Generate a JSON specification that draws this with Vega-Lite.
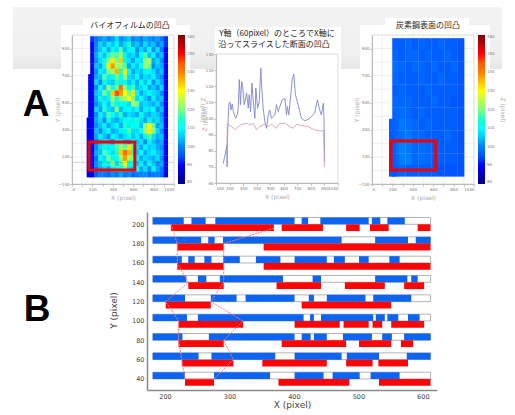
{"$schema":"https://vega.github.io/schema/vega-lite/v6.json","autosize":"none","padding":0,"width":515,"height":415,"background":"white","config":{"view":{"stroke":null},"axis":{"labelFont":"DejaVu Sans","titleFont":"DejaVu Sans","titleFontWeight":"normal"},"legend":{"labelFont":"DejaVu Sans","titleFont":"DejaVu Sans"}},"resolve":{"scale":{"x":"independent","y":"independent","color":"independent"},"axis":{"x":"independent","y":"independent"},"legend":{"color":"independent"}},"datasets":{"boxes":[{"x0":61,"x1":190,"y0":25,"y1":70},{"x0":83,"x1":176,"y0":18,"y1":26},{"x0":215,"x1":341,"y0":27,"y1":70},{"x0":360,"x1":490,"y0":25,"y1":70},{"x0":385,"x1":469,"y0":18,"y1":26}],"band":[{"x0":13,"x1":502,"y0":7,"y1":69}],"letters":[{"x":36,"y":116,"t":"A"},{"x":37,"y":321,"t":"B"}],"titles":[{"x":130,"y":26,"t":"バイオフィルムの凹凸"},{"x":277,"y":34,"t":"Y軸（60pixel）のところでX軸に"},{"x":274,"y":45,"t":"沿ってスライスした断面の凹凸"},{"x":428,"y":26,"t":"炭素鋼表面の凹凸"}],"gridV":[{"x":100,"y0":-100,"y1":1000},{"x":200,"y0":-100,"y1":1000},{"x":300,"y0":-100,"y1":1000},{"x":400,"y0":-100,"y1":1000},{"x":500,"y0":-100,"y1":1000},{"x":600,"y0":-100,"y1":1000},{"x":700,"y0":-100,"y1":1000},{"x":800,"y0":-100,"y1":1000},{"x":900,"y0":-100,"y1":1000}],"gridH":[{"y":0,"x0":0,"x1":1000},{"y":100,"x0":0,"x1":1000},{"y":200,"x0":0,"x1":1000},{"y":300,"x0":0,"x1":1000},{"y":400,"x0":0,"x1":1000},{"y":500,"x0":0,"x1":1000},{"y":600,"x0":0,"x1":1000},{"y":700,"x0":0,"x1":1000},{"y":800,"x0":0,"x1":1000},{"y":900,"x0":0,"x1":1000}],"frame1":[{"x0":0,"x1":1000,"y0":-100,"y1":1000}],"frame2":[{"x0":100,"x1":1000,"y0":60,"y1":140}],"outline1":[{"x0":167,"x1":616,"y0":3,"y1":210}],"outline3":[{"x0":186,"x1":625,"y0":3,"y1":218}],"slice":[{"x0":0,"x1":1000,"y":60}],"blueProfile":[{"x":154,"z":72.1},{"x":161,"z":75.2},{"x":174,"z":80.4},{"x":181,"z":83.5},{"x":182,"z":70},{"x":183,"z":83.5},{"x":191,"z":102.2},{"x":196,"z":109.5},{"x":205,"z":110.1},{"x":210,"z":105.3},{"x":220,"z":108.9},{"x":228,"z":104.3},{"x":245,"z":100.1},{"x":257,"z":102.2},{"x":264,"z":106.4},{"x":272,"z":124.1},{"x":281,"z":108.5},{"x":289,"z":123},{"x":296,"z":120.9},{"x":308,"z":108.5},{"x":326,"z":115.7},{"x":338,"z":106.4},{"x":345,"z":114.7},{"x":355,"z":104.3},{"x":365,"z":122},{"x":377,"z":108.5},{"x":387,"z":100.1},{"x":394,"z":118.9},{"x":407,"z":106.4},{"x":419,"z":110.5},{"x":431,"z":131.3},{"x":436,"z":120.9},{"x":448,"z":106.4},{"x":460,"z":98.1},{"x":473,"z":93.9},{"x":485,"z":102.2},{"x":497,"z":105.3},{"x":509,"z":100.1},{"x":534,"z":102.2},{"x":546,"z":108.5},{"x":559,"z":104.3},{"x":571,"z":107.4},{"x":588,"z":111.6},{"x":608,"z":112.6},{"x":620,"z":102.2},{"x":627,"z":107.4},{"x":637,"z":102.2},{"x":652,"z":114.7},{"x":662,"z":124.1},{"x":674,"z":127.6},{"x":686,"z":114.7},{"x":706,"z":108.5},{"x":730,"z":100.1},{"x":755,"z":98.5},{"x":791,"z":100.1},{"x":828,"z":103.3},{"x":848,"z":111.6},{"x":865,"z":105.3},{"x":877,"z":102.2},{"x":892,"z":109.5},{"x":897,"z":98.1},{"x":902,"z":73.1}],"redProfile":[{"x":181,"z":81.4},{"x":183,"z":97},{"x":196,"z":96},{"x":215,"z":95},{"x":240,"z":92.9},{"x":264,"z":95},{"x":289,"z":96.4},{"x":326,"z":97},{"x":350,"z":96},{"x":375,"z":97},{"x":399,"z":92.9},{"x":424,"z":95},{"x":460,"z":96.4},{"x":485,"z":95},{"x":509,"z":96.4},{"x":546,"z":93.9},{"x":571,"z":97},{"x":608,"z":97},{"x":644,"z":95},{"x":669,"z":93.9},{"x":693,"z":96.4},{"x":730,"z":95.6},{"x":779,"z":95},{"x":828,"z":92.9},{"x":877,"z":92.2},{"x":892,"z":92.9},{"x":897,"z":81.4},{"x":899,"z":70}],"track":[{"row":200,"top":207,"start":181,"end":612},{"row":180,"top":187,"start":181,"end":612},{"row":160,"top":167,"start":181,"end":612},{"row":140,"top":147,"start":181,"end":612},{"row":120,"top":127,"start":181,"end":612},{"row":100,"top":107,"start":181,"end":612},{"row":80,"top":87,"start":181,"end":612},{"row":60,"top":67,"start":181,"end":612},{"row":40,"top":47,"start":181,"end":612}],"blue":[{"row":200,"top":207,"start":181,"end":229},{"row":200,"top":207,"start":241,"end":263},{"row":200,"top":207,"start":278,"end":401},{"row":200,"top":207,"start":412,"end":422},{"row":200,"top":207,"start":441,"end":516},{"row":200,"top":207,"start":521,"end":534},{"row":200,"top":207,"start":545,"end":572},{"row":180,"top":187,"start":181,"end":256},{"row":180,"top":187,"start":267,"end":277},{"row":180,"top":187,"start":290,"end":474},{"row":180,"top":187,"start":526,"end":577},{"row":180,"top":187,"start":589,"end":612},{"row":160,"top":167,"start":181,"end":226},{"row":160,"top":167,"start":236,"end":246},{"row":160,"top":167,"start":261,"end":272},{"row":160,"top":167,"start":290,"end":316},{"row":160,"top":167,"start":341,"end":379},{"row":160,"top":167,"start":401,"end":451},{"row":160,"top":167,"start":462,"end":479},{"row":160,"top":167,"start":501,"end":516},{"row":160,"top":167,"start":548,"end":564},{"row":140,"top":147,"start":181,"end":233},{"row":140,"top":147,"start":251,"end":264},{"row":140,"top":147,"start":285,"end":383},{"row":140,"top":147,"start":429,"end":442},{"row":140,"top":147,"start":526,"end":576},{"row":140,"top":147,"start":582,"end":592},{"row":120,"top":127,"start":181,"end":231},{"row":120,"top":127,"start":271,"end":311},{"row":120,"top":127,"start":325,"end":401},{"row":120,"top":127,"start":423,"end":431},{"row":120,"top":127,"start":451,"end":511},{"row":120,"top":127,"start":523,"end":582},{"row":100,"top":107,"start":181,"end":234},{"row":100,"top":107,"start":251,"end":415},{"row":100,"top":107,"start":425,"end":431},{"row":100,"top":107,"start":442,"end":523},{"row":100,"top":107,"start":527,"end":541},{"row":100,"top":107,"start":545,"end":562},{"row":100,"top":107,"start":577,"end":595},{"row":80,"top":87,"start":181,"end":227},{"row":80,"top":87,"start":268,"end":401},{"row":80,"top":87,"start":412,"end":426},{"row":80,"top":87,"start":431,"end":451},{"row":80,"top":87,"start":476,"end":521},{"row":80,"top":87,"start":537,"end":552},{"row":80,"top":87,"start":571,"end":612},{"row":60,"top":67,"start":181,"end":252},{"row":60,"top":67,"start":272,"end":371},{"row":60,"top":67,"start":401,"end":474},{"row":60,"top":67,"start":482,"end":532},{"row":60,"top":67,"start":575,"end":612},{"row":40,"top":47,"start":181,"end":231},{"row":40,"top":47,"start":276,"end":363},{"row":40,"top":47,"start":401,"end":446},{"row":40,"top":47,"start":460,"end":502},{"row":40,"top":47,"start":519,"end":564}],"red":[{"row":193,"top":200,"start":209,"end":369},{"row":193,"top":200,"start":381,"end":445},{"row":193,"top":200,"start":481,"end":502},{"row":193,"top":200,"start":518,"end":547},{"row":193,"top":200,"start":592,"end":612},{"row":173,"top":180,"start":219,"end":291},{"row":173,"top":180,"start":353,"end":612},{"row":153,"top":160,"start":219,"end":291},{"row":153,"top":160,"start":353,"end":612},{"row":133,"top":140,"start":236,"end":291},{"row":133,"top":140,"start":373,"end":442},{"row":133,"top":140,"start":479,"end":541},{"row":133,"top":140,"start":571,"end":602},{"row":113,"top":120,"start":201,"end":271},{"row":113,"top":120,"start":412,"end":551},{"row":93,"top":100,"start":221,"end":321},{"row":93,"top":100,"start":401,"end":471},{"row":93,"top":100,"start":477,"end":516},{"row":93,"top":100,"start":522,"end":537},{"row":93,"top":100,"start":551,"end":602},{"row":73,"top":80,"start":221,"end":291},{"row":73,"top":80,"start":381,"end":481},{"row":73,"top":80,"start":501,"end":551},{"row":73,"top":80,"start":566,"end":585},{"row":53,"top":60,"start":226,"end":306},{"row":53,"top":60,"start":351,"end":451},{"row":53,"top":60,"start":481,"end":522},{"row":53,"top":60,"start":531,"end":577},{"row":33,"top":40,"start":231,"end":276},{"row":33,"top":40,"start":376,"end":486},{"row":33,"top":40,"start":532,"end":612}],"contour":[{"o":1,"x":209,"y":200},{"o":2,"x":219,"y":180},{"o":3,"x":219,"y":160},{"o":4,"x":236,"y":140},{"o":5,"x":201,"y":120},{"o":6,"x":221,"y":100},{"o":7,"x":221,"y":80},{"o":8,"x":226,"y":60},{"o":9,"x":231,"y":40},{"o":10,"x":276,"y":40},{"o":11,"x":306,"y":60},{"o":12,"x":291,"y":80},{"o":13,"x":321,"y":100},{"o":14,"x":271,"y":120},{"o":15,"x":291,"y":140},{"o":16,"x":291,"y":160},{"o":17,"x":291,"y":180},{"o":18,"x":369,"y":196}],"copper":[{"x":232,"y":933,"z":96},{"x":296,"y":933,"z":96},{"x":360,"y":933,"z":97},{"x":424,"y":933,"z":96},{"x":488,"y":933,"z":97},{"x":552,"y":933,"z":96},{"x":616,"y":933,"z":96},{"x":680,"y":933,"z":97},{"x":744,"y":933,"z":96},{"x":808,"y":933,"z":96},{"x":872,"y":933,"z":95},{"x":232,"y":848,"z":97},{"x":296,"y":848,"z":96},{"x":360,"y":848,"z":97},{"x":424,"y":848,"z":97},{"x":488,"y":848,"z":96},{"x":552,"y":848,"z":97},{"x":616,"y":848,"z":96},{"x":680,"y":848,"z":96},{"x":744,"y":848,"z":97},{"x":808,"y":848,"z":96},{"x":872,"y":848,"z":95},{"x":232,"y":763,"z":98},{"x":296,"y":763,"z":97},{"x":360,"y":763,"z":96},{"x":424,"y":763,"z":97},{"x":488,"y":763,"z":97},{"x":552,"y":763,"z":96},{"x":616,"y":763,"z":97},{"x":680,"y":763,"z":96},{"x":744,"y":763,"z":96},{"x":808,"y":763,"z":97},{"x":872,"y":763,"z":95},{"x":232,"y":678,"z":97},{"x":296,"y":678,"z":96},{"x":360,"y":678,"z":96},{"x":424,"y":678,"z":96},{"x":488,"y":678,"z":97},{"x":552,"y":678,"z":96},{"x":616,"y":678,"z":96},{"x":680,"y":678,"z":97},{"x":744,"y":678,"z":96},{"x":808,"y":678,"z":96},{"x":872,"y":678,"z":95},{"x":232,"y":593,"z":96},{"x":296,"y":593,"z":97},{"x":360,"y":593,"z":96},{"x":424,"y":593,"z":96},{"x":488,"y":593,"z":96},{"x":552,"y":593,"z":97},{"x":616,"y":593,"z":96},{"x":680,"y":593,"z":96},{"x":744,"y":593,"z":96},{"x":808,"y":593,"z":96},{"x":872,"y":593,"z":95},{"x":232,"y":508,"z":97},{"x":296,"y":508,"z":97},{"x":360,"y":508,"z":97},{"x":424,"y":508,"z":96},{"x":488,"y":508,"z":96},{"x":552,"y":508,"z":96},{"x":616,"y":508,"z":97},{"x":680,"y":508,"z":96},{"x":744,"y":508,"z":96},{"x":808,"y":508,"z":95},{"x":872,"y":508,"z":95},{"x":232,"y":423,"z":97},{"x":296,"y":423,"z":98},{"x":360,"y":423,"z":97},{"x":424,"y":423,"z":96},{"x":488,"y":423,"z":97},{"x":552,"y":423,"z":96},{"x":616,"y":423,"z":96},{"x":680,"y":423,"z":96},{"x":744,"y":423,"z":96},{"x":808,"y":423,"z":96},{"x":872,"y":423,"z":95},{"x":232,"y":338,"z":97},{"x":296,"y":338,"z":99},{"x":360,"y":338,"z":98},{"x":424,"y":338,"z":97},{"x":488,"y":338,"z":96},{"x":552,"y":338,"z":97},{"x":616,"y":338,"z":96},{"x":680,"y":338,"z":96},{"x":744,"y":338,"z":96},{"x":808,"y":338,"z":96},{"x":872,"y":338,"z":95},{"x":232,"y":253,"z":97},{"x":296,"y":253,"z":98},{"x":360,"y":253,"z":99},{"x":424,"y":253,"z":97},{"x":488,"y":253,"z":97},{"x":552,"y":253,"z":96},{"x":616,"y":253,"z":96},{"x":680,"y":253,"z":96},{"x":744,"y":253,"z":97},{"x":808,"y":253,"z":96},{"x":872,"y":253,"z":95},{"x":232,"y":168,"z":98},{"x":296,"y":168,"z":100},{"x":360,"y":168,"z":99},{"x":424,"y":168,"z":97},{"x":488,"y":168,"z":98},{"x":552,"y":168,"z":97},{"x":616,"y":168,"z":96},{"x":680,"y":168,"z":96},{"x":744,"y":168,"z":96},{"x":808,"y":168,"z":96},{"x":872,"y":168,"z":95},{"x":232,"y":83,"z":97},{"x":296,"y":83,"z":100},{"x":360,"y":83,"z":100},{"x":424,"y":83,"z":97},{"x":488,"y":83,"z":98},{"x":552,"y":83,"z":97},{"x":616,"y":83,"z":96},{"x":680,"y":83,"z":96},{"x":744,"y":83,"z":96},{"x":808,"y":83,"z":96},{"x":872,"y":83,"z":95},{"x":232,"y":-2,"z":96},{"x":296,"y":-2,"z":97},{"x":360,"y":-2,"z":96},{"x":424,"y":-2,"z":96},{"x":488,"y":-2,"z":96},{"x":552,"y":-2,"z":96},{"x":616,"y":-2,"z":96},{"x":680,"y":-2,"z":95},{"x":744,"y":-2,"z":95},{"x":808,"y":-2,"z":95},{"x":872,"y":-2,"z":95},{"x":200,"y":338,"z":96},{"x":200,"y":253,"z":96},{"x":200,"y":168,"z":96},{"x":200,"y":83,"z":96},{"x":200,"y":-2,"z":95}],"film":[{"x":165,"y":370,"z":88},{"x":165,"y":330,"z":88},{"x":165,"y":290,"z":88},{"x":165,"y":250,"z":88},{"x":165,"y":210,"z":88},{"x":165,"y":170,"z":88},{"x":165,"y":130,"z":88},{"x":165,"y":90,"z":88},{"x":165,"y":50,"z":88},{"x":165,"y":10,"z":88},{"x":165,"y":-30,"z":88},{"x":180,"y":690,"z":88},{"x":180,"y":650,"z":88},{"x":180,"y":610,"z":88},{"x":180,"y":570,"z":88},{"x":180,"y":530,"z":88},{"x":180,"y":490,"z":88},{"x":180,"y":450,"z":88},{"x":180,"y":410,"z":88},{"x":200,"y":970,"z":92},{"x":240,"y":970,"z":98},{"x":280,"y":970,"z":101},{"x":320,"y":970,"z":103},{"x":360,"y":970,"z":100},{"x":400,"y":970,"z":102},{"x":440,"y":970,"z":107},{"x":480,"y":970,"z":101},{"x":520,"y":970,"z":103},{"x":560,"y":970,"z":105},{"x":600,"y":970,"z":100},{"x":640,"y":970,"z":102},{"x":680,"y":970,"z":99},{"x":720,"y":970,"z":103},{"x":760,"y":970,"z":101},{"x":800,"y":970,"z":100},{"x":840,"y":970,"z":102},{"x":880,"y":970,"z":99},{"x":920,"y":970,"z":92},{"x":200,"y":930,"z":90},{"x":240,"y":930,"z":100},{"x":280,"y":930,"z":107},{"x":320,"y":930,"z":103},{"x":360,"y":930,"z":109},{"x":400,"y":930,"z":105},{"x":440,"y":930,"z":113},{"x":480,"y":930,"z":103},{"x":520,"y":930,"z":107},{"x":560,"y":930,"z":115},{"x":600,"y":930,"z":103},{"x":640,"y":930,"z":105},{"x":680,"y":930,"z":101},{"x":720,"y":930,"z":107},{"x":760,"y":930,"z":103},{"x":800,"y":930,"z":105},{"x":840,"y":930,"z":99},{"x":880,"y":930,"z":103},{"x":920,"y":930,"z":92},{"x":200,"y":890,"z":90},{"x":240,"y":890,"z":101},{"x":280,"y":890,"z":105},{"x":320,"y":890,"z":111},{"x":360,"y":890,"z":103},{"x":400,"y":890,"z":113},{"x":440,"y":890,"z":107},{"x":480,"y":890,"z":117},{"x":520,"y":890,"z":105},{"x":560,"y":890,"z":109},{"x":600,"y":890,"z":113},{"x":640,"y":890,"z":101},{"x":680,"y":890,"z":107},{"x":720,"y":890,"z":103},{"x":760,"y":890,"z":111},{"x":800,"y":890,"z":101},{"x":840,"y":890,"z":107},{"x":880,"y":890,"z":99},{"x":920,"y":890,"z":90},{"x":200,"y":850,"z":90},{"x":240,"y":850,"z":103},{"x":280,"y":850,"z":109},{"x":320,"y":850,"z":105},{"x":360,"y":850,"z":115},{"x":400,"y":850,"z":119},{"x":440,"y":850,"z":117},{"x":480,"y":850,"z":123},{"x":520,"y":850,"z":109},{"x":560,"y":850,"z":105},{"x":600,"y":850,"z":107},{"x":640,"y":850,"z":103},{"x":680,"y":850,"z":111},{"x":720,"y":850,"z":117},{"x":760,"y":850,"z":105},{"x":800,"y":850,"z":109},{"x":840,"y":850,"z":101},{"x":880,"y":850,"z":105},{"x":920,"y":850,"z":90},{"x":200,"y":810,"z":90},{"x":240,"y":810,"z":101},{"x":280,"y":810,"z":107},{"x":320,"y":810,"z":113},{"x":360,"y":810,"z":121},{"x":400,"y":810,"z":132},{"x":440,"y":810,"z":119},{"x":480,"y":810,"z":134},{"x":520,"y":810,"z":113},{"x":560,"y":810,"z":107},{"x":600,"y":810,"z":103},{"x":640,"y":810,"z":109},{"x":680,"y":810,"z":107},{"x":720,"y":810,"z":121},{"x":760,"y":810,"z":123},{"x":800,"y":810,"z":103},{"x":840,"y":810,"z":107},{"x":880,"y":810,"z":101},{"x":920,"y":810,"z":90},{"x":200,"y":770,"z":90},{"x":240,"y":770,"z":105},{"x":280,"y":770,"z":103},{"x":320,"y":770,"z":111},{"x":360,"y":770,"z":132},{"x":400,"y":770,"z":138},{"x":440,"y":770,"z":123},{"x":480,"y":770,"z":121},{"x":520,"y":770,"z":117},{"x":560,"y":770,"z":103},{"x":600,"y":770,"z":109},{"x":640,"y":770,"z":105},{"x":680,"y":770,"z":111},{"x":720,"y":770,"z":123},{"x":760,"y":770,"z":119},{"x":800,"y":770,"z":101},{"x":840,"y":770,"z":105},{"x":880,"y":770,"z":103},{"x":920,"y":770,"z":90},{"x":200,"y":730,"z":90},{"x":240,"y":730,"z":101},{"x":280,"y":730,"z":109},{"x":320,"y":730,"z":107},{"x":360,"y":730,"z":119},{"x":400,"y":730,"z":123},{"x":440,"y":730,"z":136},{"x":480,"y":730,"z":115},{"x":520,"y":730,"z":132},{"x":560,"y":730,"z":111},{"x":600,"y":730,"z":103},{"x":640,"y":730,"z":107},{"x":680,"y":730,"z":105},{"x":720,"y":730,"z":113},{"x":760,"y":730,"z":109},{"x":800,"y":730,"z":107},{"x":840,"y":730,"z":101},{"x":880,"y":730,"z":105},{"x":920,"y":730,"z":90},{"x":200,"y":690,"z":90},{"x":240,"y":690,"z":103},{"x":280,"y":690,"z":105},{"x":320,"y":690,"z":117},{"x":360,"y":690,"z":109},{"x":400,"y":690,"z":113},{"x":440,"y":690,"z":119},{"x":480,"y":690,"z":111},{"x":520,"y":690,"z":123},{"x":560,"y":690,"z":107},{"x":600,"y":690,"z":105},{"x":640,"y":690,"z":111},{"x":680,"y":690,"z":103},{"x":720,"y":690,"z":107},{"x":760,"y":690,"z":105},{"x":800,"y":690,"z":109},{"x":840,"y":690,"z":103},{"x":880,"y":690,"z":101},{"x":920,"y":690,"z":90},{"x":200,"y":650,"z":90},{"x":240,"y":650,"z":107},{"x":280,"y":650,"z":101},{"x":320,"y":650,"z":113},{"x":360,"y":650,"z":107},{"x":400,"y":650,"z":105},{"x":440,"y":650,"z":115},{"x":480,"y":650,"z":109},{"x":520,"y":650,"z":113},{"x":560,"y":650,"z":105},{"x":600,"y":650,"z":109},{"x":640,"y":650,"z":103},{"x":680,"y":650,"z":113},{"x":720,"y":650,"z":105},{"x":760,"y":650,"z":111},{"x":800,"y":650,"z":101},{"x":840,"y":650,"z":107},{"x":880,"y":650,"z":103},{"x":920,"y":650,"z":90},{"x":200,"y":610,"z":90},{"x":240,"y":610,"z":101},{"x":280,"y":610,"z":111},{"x":320,"y":610,"z":105},{"x":360,"y":610,"z":123},{"x":400,"y":610,"z":111},{"x":440,"y":610,"z":119},{"x":480,"y":610,"z":142},{"x":520,"y":610,"z":121},{"x":560,"y":610,"z":113},{"x":600,"y":610,"z":117},{"x":640,"y":610,"z":105},{"x":680,"y":610,"z":107},{"x":720,"y":610,"z":111},{"x":760,"y":610,"z":103},{"x":800,"y":610,"z":105},{"x":840,"y":610,"z":101},{"x":880,"y":610,"z":107},{"x":920,"y":610,"z":90},{"x":200,"y":570,"z":90},{"x":240,"y":570,"z":105},{"x":280,"y":570,"z":107},{"x":320,"y":570,"z":119},{"x":360,"y":570,"z":113},{"x":400,"y":570,"z":134},{"x":440,"y":570,"z":146},{"x":480,"y":570,"z":138},{"x":520,"y":570,"z":130},{"x":560,"y":570,"z":119},{"x":600,"y":570,"z":132},{"x":640,"y":570,"z":109},{"x":680,"y":570,"z":103},{"x":720,"y":570,"z":107},{"x":760,"y":570,"z":113},{"x":800,"y":570,"z":107},{"x":840,"y":570,"z":105},{"x":880,"y":570,"z":101},{"x":920,"y":570,"z":90},{"x":200,"y":530,"z":90},{"x":240,"y":530,"z":103},{"x":280,"y":530,"z":113},{"x":320,"y":530,"z":107},{"x":360,"y":530,"z":109},{"x":400,"y":530,"z":123},{"x":440,"y":530,"z":115},{"x":480,"y":530,"z":121},{"x":520,"y":530,"z":123},{"x":560,"y":530,"z":130},{"x":600,"y":530,"z":121},{"x":640,"y":530,"z":107},{"x":680,"y":530,"z":111},{"x":720,"y":530,"z":105},{"x":760,"y":530,"z":101},{"x":800,"y":530,"z":109},{"x":840,"y":530,"z":103},{"x":880,"y":530,"z":105},{"x":920,"y":530,"z":90},{"x":200,"y":490,"z":90},{"x":240,"y":490,"z":101},{"x":280,"y":490,"z":105},{"x":320,"y":490,"z":111},{"x":360,"y":490,"z":105},{"x":400,"y":490,"z":117},{"x":440,"y":490,"z":109},{"x":480,"y":490,"z":111},{"x":520,"y":490,"z":113},{"x":560,"y":490,"z":107},{"x":600,"y":490,"z":123},{"x":640,"y":490,"z":119},{"x":680,"y":490,"z":105},{"x":720,"y":490,"z":107},{"x":760,"y":490,"z":105},{"x":800,"y":490,"z":103},{"x":840,"y":490,"z":107},{"x":880,"y":490,"z":101},{"x":920,"y":490,"z":90},{"x":200,"y":450,"z":90},{"x":240,"y":450,"z":107},{"x":280,"y":450,"z":103},{"x":320,"y":450,"z":115},{"x":360,"y":450,"z":107},{"x":400,"y":450,"z":105},{"x":440,"y":450,"z":121},{"x":480,"y":450,"z":105},{"x":520,"y":450,"z":109},{"x":560,"y":450,"z":111},{"x":600,"y":450,"z":107},{"x":640,"y":450,"z":111},{"x":680,"y":450,"z":103},{"x":720,"y":450,"z":109},{"x":760,"y":450,"z":107},{"x":800,"y":450,"z":111},{"x":840,"y":450,"z":101},{"x":880,"y":450,"z":105},{"x":920,"y":450,"z":90},{"x":200,"y":410,"z":90},{"x":240,"y":410,"z":101},{"x":280,"y":410,"z":109},{"x":320,"y":410,"z":105},{"x":360,"y":410,"z":117},{"x":400,"y":410,"z":111},{"x":440,"y":410,"z":107},{"x":480,"y":410,"z":115},{"x":520,"y":410,"z":103},{"x":560,"y":410,"z":107},{"x":600,"y":410,"z":105},{"x":640,"y":410,"z":103},{"x":680,"y":410,"z":113},{"x":720,"y":410,"z":105},{"x":760,"y":410,"z":103},{"x":800,"y":410,"z":107},{"x":840,"y":410,"z":105},{"x":880,"y":410,"z":101},{"x":920,"y":410,"z":90},{"x":200,"y":370,"z":90},{"x":240,"y":370,"z":103},{"x":280,"y":370,"z":107},{"x":320,"y":370,"z":101},{"x":360,"y":370,"z":111},{"x":400,"y":370,"z":105},{"x":440,"y":370,"z":103},{"x":480,"y":370,"z":107},{"x":520,"y":370,"z":111},{"x":560,"y":370,"z":113},{"x":600,"y":370,"z":109},{"x":640,"y":370,"z":115},{"x":680,"y":370,"z":107},{"x":720,"y":370,"z":103},{"x":760,"y":370,"z":109},{"x":800,"y":370,"z":105},{"x":840,"y":370,"z":107},{"x":880,"y":370,"z":103},{"x":920,"y":370,"z":90},{"x":200,"y":330,"z":90},{"x":240,"y":330,"z":101},{"x":280,"y":330,"z":105},{"x":320,"y":330,"z":109},{"x":360,"y":330,"z":103},{"x":400,"y":330,"z":107},{"x":440,"y":330,"z":111},{"x":480,"y":330,"z":103},{"x":520,"y":330,"z":115},{"x":560,"y":330,"z":109},{"x":600,"y":330,"z":113},{"x":640,"y":330,"z":111},{"x":680,"y":330,"z":105},{"x":720,"y":330,"z":121},{"x":760,"y":330,"z":130},{"x":800,"y":330,"z":119},{"x":840,"y":330,"z":103},{"x":880,"y":330,"z":105},{"x":920,"y":330,"z":90},{"x":200,"y":290,"z":90},{"x":240,"y":290,"z":105},{"x":280,"y":290,"z":101},{"x":320,"y":290,"z":107},{"x":360,"y":290,"z":111},{"x":400,"y":290,"z":103},{"x":440,"y":290,"z":105},{"x":480,"y":290,"z":109},{"x":520,"y":290,"z":113},{"x":560,"y":290,"z":117},{"x":600,"y":290,"z":107},{"x":640,"y":290,"z":107},{"x":680,"y":290,"z":111},{"x":720,"y":290,"z":123},{"x":760,"y":290,"z":132},{"x":800,"y":290,"z":121},{"x":840,"y":290,"z":107},{"x":880,"y":290,"z":101},{"x":920,"y":290,"z":90},{"x":200,"y":250,"z":90},{"x":240,"y":250,"z":103},{"x":280,"y":250,"z":109},{"x":320,"y":250,"z":105},{"x":360,"y":250,"z":101},{"x":400,"y":250,"z":113},{"x":440,"y":250,"z":107},{"x":480,"y":250,"z":103},{"x":520,"y":250,"z":107},{"x":560,"y":250,"z":111},{"x":600,"y":250,"z":105},{"x":640,"y":250,"z":109},{"x":680,"y":250,"z":103},{"x":720,"y":250,"z":113},{"x":760,"y":250,"z":117},{"x":800,"y":250,"z":107},{"x":840,"y":250,"z":103},{"x":880,"y":250,"z":105},{"x":920,"y":250,"z":90},{"x":200,"y":210,"z":90},{"x":240,"y":210,"z":99},{"x":280,"y":210,"z":103},{"x":320,"y":210,"z":107},{"x":360,"y":210,"z":105},{"x":400,"y":210,"z":101},{"x":440,"y":210,"z":109},{"x":480,"y":210,"z":113},{"x":520,"y":210,"z":105},{"x":560,"y":210,"z":103},{"x":600,"y":210,"z":111},{"x":640,"y":210,"z":105},{"x":680,"y":210,"z":107},{"x":720,"y":210,"z":101},{"x":760,"y":210,"z":109},{"x":800,"y":210,"z":105},{"x":840,"y":210,"z":101},{"x":880,"y":210,"z":103},{"x":920,"y":210,"z":90},{"x":200,"y":170,"z":90},{"x":240,"y":170,"z":101},{"x":280,"y":170,"z":107},{"x":320,"y":170,"z":113},{"x":360,"y":170,"z":109},{"x":400,"y":170,"z":111},{"x":440,"y":170,"z":117},{"x":480,"y":170,"z":123},{"x":520,"y":170,"z":119},{"x":560,"y":170,"z":132},{"x":600,"y":170,"z":117},{"x":640,"y":170,"z":107},{"x":680,"y":170,"z":103},{"x":720,"y":170,"z":109},{"x":760,"y":170,"z":105},{"x":800,"y":170,"z":107},{"x":840,"y":170,"z":103},{"x":880,"y":170,"z":101},{"x":920,"y":170,"z":90},{"x":200,"y":130,"z":90},{"x":240,"y":130,"z":103},{"x":280,"y":130,"z":105},{"x":320,"y":130,"z":117},{"x":360,"y":130,"z":111},{"x":400,"y":130,"z":107},{"x":440,"y":130,"z":115},{"x":480,"y":130,"z":134},{"x":520,"y":130,"z":142},{"x":560,"y":130,"z":136},{"x":600,"y":130,"z":115},{"x":640,"y":130,"z":105},{"x":680,"y":130,"z":111},{"x":720,"y":130,"z":103},{"x":760,"y":130,"z":107},{"x":800,"y":130,"z":109},{"x":840,"y":130,"z":105},{"x":880,"y":130,"z":103},{"x":920,"y":130,"z":90},{"x":200,"y":90,"z":90},{"x":240,"y":90,"z":99},{"x":280,"y":90,"z":111},{"x":320,"y":90,"z":107},{"x":360,"y":90,"z":119},{"x":400,"y":90,"z":113},{"x":440,"y":90,"z":111},{"x":480,"y":90,"z":123},{"x":520,"y":90,"z":138},{"x":560,"y":90,"z":123},{"x":600,"y":90,"z":121},{"x":640,"y":90,"z":109},{"x":680,"y":90,"z":103},{"x":720,"y":90,"z":107},{"x":760,"y":90,"z":105},{"x":800,"y":90,"z":103},{"x":840,"y":90,"z":107},{"x":880,"y":90,"z":101},{"x":920,"y":90,"z":90},{"x":200,"y":50,"z":90},{"x":240,"y":50,"z":101},{"x":280,"y":50,"z":105},{"x":320,"y":50,"z":113},{"x":360,"y":50,"z":109},{"x":400,"y":50,"z":121},{"x":440,"y":50,"z":107},{"x":480,"y":50,"z":117},{"x":520,"y":50,"z":130},{"x":560,"y":50,"z":113},{"x":600,"y":50,"z":111},{"x":640,"y":50,"z":105},{"x":680,"y":50,"z":109},{"x":720,"y":50,"z":103},{"x":760,"y":50,"z":111},{"x":800,"y":50,"z":105},{"x":840,"y":50,"z":101},{"x":880,"y":50,"z":103},{"x":920,"y":50,"z":90},{"x":200,"y":10,"z":90},{"x":240,"y":10,"z":99},{"x":280,"y":10,"z":103},{"x":320,"y":10,"z":107},{"x":360,"y":10,"z":103},{"x":400,"y":10,"z":109},{"x":440,"y":10,"z":115},{"x":480,"y":10,"z":111},{"x":520,"y":10,"z":119},{"x":560,"y":10,"z":107},{"x":600,"y":10,"z":105},{"x":640,"y":10,"z":111},{"x":680,"y":10,"z":103},{"x":720,"y":10,"z":107},{"x":760,"y":10,"z":101},{"x":800,"y":10,"z":109},{"x":840,"y":10,"z":103},{"x":880,"y":10,"z":99},{"x":920,"y":10,"z":90},{"x":200,"y":-30,"z":88},{"x":240,"y":-30,"z":96},{"x":280,"y":-30,"z":100},{"x":320,"y":-30,"z":99},{"x":360,"y":-30,"z":97},{"x":400,"y":-30,"z":101},{"x":440,"y":-30,"z":99},{"x":480,"y":-30,"z":103},{"x":520,"y":-30,"z":99},{"x":560,"y":-30,"z":101},{"x":600,"y":-30,"z":97},{"x":640,"y":-30,"z":99},{"x":680,"y":-30,"z":100},{"x":720,"y":-30,"z":101},{"x":760,"y":-30,"z":97},{"x":800,"y":-30,"z":99},{"x":840,"y":-30,"z":100},{"x":880,"y":-30,"z":98},{"x":920,"y":-30,"z":88}]},"layer":[{"layer":[{"data":{"name":"band"},"mark":{"type":"rect","fill":{"gradient":"linear","x1":0,"y1":0,"x2":0,"y2":1,"stops":[{"offset":0,"color":"#f3f3f3"},{"offset":0.75,"color":"#f0f0f0"},{"offset":1,"color":"#e6e6e6"}]}},"encoding":{"x":{"field":"x0","type":"quantitative","scale":{"domain":[0,515],"nice":false},"axis":null},"x2":{"field":"x1"},"y":{"field":"y0","type":"quantitative","scale":{"domain":[415,0],"nice":false},"axis":null},"y2":{"field":"y1"}}},{"data":{"name":"boxes"},"mark":{"type":"rect","fill":"white"},"encoding":{"x":{"field":"x0","type":"quantitative","axis":null},"x2":{"field":"x1"},"y":{"field":"y0","type":"quantitative","axis":null},"y2":{"field":"y1"}}},{"data":{"name":"letters"},"mark":{"type":"text","font":"Liberation Sans","fontWeight":"bold","fontSize":37,"color":"#000","baseline":"alphabetic","align":"center"},"encoding":{"x":{"field":"x","type":"quantitative","axis":null},"y":{"field":"y","type":"quantitative","axis":null},"text":{"field":"t"}}},{"data":{"name":"titles"},"mark":{"type":"text","font":"Noto Sans CJK JP","fontSize":8,"color":"#222","baseline":"middle","align":"center"},"encoding":{"x":{"field":"x","type":"quantitative","axis":null},"y":{"field":"y","type":"quantitative","axis":null},"text":{"field":"t"}}}]},{"layer":[{"data":{"name":"gridV"},"mark":{"type":"rule","color":"#e4e4e4","strokeWidth":0.6},"encoding":{"x":{"field":"x","type":"quantitative","title":"X (pixel)","scale":{"domain":[0,1000],"range":[72,174],"nice":false},"axis":{"zindex":1,"orient":"bottom","offset":-231,"values":[0,100,200,300,400,500,600,700,800,900,1000],"labelExpr":"datum.value%200==0?datum.label:''","labelOverlap":false,"format":"d","grid":false,"domainColor":"#bbb","tickColor":"#bbb","tickSize":2,"labelFontSize":4,"labelColor":"#777","titleFontSize":6,"titleColor":"#aaa","titlePadding":3,"labelPadding":1}},"y":{"field":"y0","type":"quantitative","title":"Y (pixel)","scale":{"domain":[-100,1000],"range":[184,35],"nice":false},"axis":{"zindex":1,"orient":"left","offset":-72,"values":[-100,0,100,200,300,400,500,600,700,800,900,1000],"labelOverlap":false,"format":"d","grid":false,"domainColor":"#bbb","tickColor":"#bbb","tickSize":2,"labelFontSize":4,"labelColor":"#777","titleFontSize":6,"titleColor":"#aaa","titleX":-12,"labelPadding":1}},"y2":{"field":"y1"}}},{"data":{"name":"gridH"},"mark":{"type":"rule","color":"#e4e4e4","strokeWidth":0.6},"encoding":{"x":{"field":"x0","type":"quantitative"},"x2":{"field":"x1"},"y":{"field":"y","type":"quantitative"}}},{"data":{"name":"film"},"mark":{"type":"rect","width":4.4,"height":5.7},"encoding":{"x":{"field":"x","type":"quantitative"},"y":{"field":"y","type":"quantitative"},"color":{"field":"z","type":"quantitative","scale":{"domain":[80,160],"range":["#00007f","#0000ff","#007fff","#00ffff","#7fff7f","#ffff00","#ff7f00","#ff0000","#7f0000"]},"legend":{"orient":"none","legendX":178,"legendY":35,"direction":"vertical","gradientLength":149,"gradientThickness":7,"values":[80,90,100,110,120,130,140,150,160],"labelFontSize":4,"labelColor":"#777","labelOverlap":false,"title":"Z (pixel)","titleOrient":"right","titleFontSize":6,"titleColor":"#aaa","titleFontWeight":"normal"}}}},{"data":{"name":"slice"},"mark":{"type":"rule","color":"#777","opacity":0.5,"strokeWidth":0.6},"encoding":{"x":{"field":"x0","type":"quantitative"},"x2":{"field":"x1"},"y":{"field":"y","type":"quantitative"}}},{"data":{"name":"frame1"},"mark":{"type":"rect","fillOpacity":0,"stroke":"#ccc","strokeWidth":0.7},"encoding":{"x":{"field":"x0","type":"quantitative"},"x2":{"field":"x1"},"y":{"field":"y0","type":"quantitative"},"y2":{"field":"y1"}}},{"data":{"name":"outline1"},"mark":{"type":"rect","fillOpacity":0,"stroke":"#f00000","strokeWidth":3},"encoding":{"x":{"field":"x0","type":"quantitative"},"x2":{"field":"x1"},"y":{"field":"y0","type":"quantitative"},"y2":{"field":"y1"}}}]},{"layer":[{"data":{"name":"frame2"},"mark":{"type":"rect","fill":"white","stroke":"#ccc","strokeWidth":0.7},"encoding":{"x":{"field":"x0","type":"quantitative","title":"X (pixel)","scale":{"domain":[100,1000],"range":[216,338],"nice":false},"axis":{"zindex":1,"orient":"bottom","offset":-232,"values":[100,200,300,400,500,600,700,800,900,1000],"labelOverlap":false,"format":"d","grid":false,"domainColor":"#bbb","tickColor":"#bbb","tickSize":2,"labelFontSize":4,"labelColor":"#777","titleFontSize":6,"titleColor":"#aaa","titlePadding":3,"labelPadding":1}},"x2":{"field":"x1"},"y":{"field":"y0","type":"quantitative","title":"Z (pixel)","scale":{"domain":[60,140],"range":[183,54],"nice":false},"axis":{"zindex":1,"orient":"left","offset":-216,"values":[60,70,80,90,100,110,120,130,140],"labelOverlap":false,"format":"d","grid":false,"domainColor":"#bbb","tickColor":"#bbb","tickSize":2,"labelFontSize":4,"labelColor":"#777","titleFontSize":6,"titleColor":"#aaa","titleX":-9,"labelPadding":1}},"y2":{"field":"y1"}}},{"data":{"name":"blueProfile"},"mark":{"type":"line","color":"#7f86cf","strokeWidth":0.9},"encoding":{"x":{"field":"x","type":"quantitative"},"y":{"field":"z","type":"quantitative"}}},{"data":{"name":"redProfile"},"mark":{"type":"line","color":"#d8a0a8","strokeWidth":0.9},"encoding":{"x":{"field":"x","type":"quantitative"},"y":{"field":"z","type":"quantitative"}}}]},{"layer":[{"data":{"name":"gridV"},"mark":{"type":"rule","color":"#e4e4e4","strokeWidth":0.6},"encoding":{"x":{"field":"x","type":"quantitative","title":"X (pixel)","scale":{"domain":[0,1000],"range":[372,474],"nice":false},"axis":{"zindex":1,"orient":"bottom","offset":-231,"values":[0,100,200,300,400,500,600,700,800,900,1000],"labelExpr":"datum.value%200==0?datum.label:''","labelOverlap":false,"format":"d","grid":false,"domainColor":"#bbb","tickColor":"#bbb","tickSize":2,"labelFontSize":4,"labelColor":"#777","titleFontSize":6,"titleColor":"#aaa","titlePadding":3,"labelPadding":1}},"y":{"field":"y0","type":"quantitative","title":"Y (pixel)","scale":{"domain":[-100,1000],"range":[184,35],"nice":false},"axis":{"zindex":1,"orient":"left","offset":-372,"values":[-100,0,100,200,300,400,500,600,700,800,900,1000],"labelOverlap":false,"format":"d","grid":false,"domainColor":"#bbb","tickColor":"#bbb","tickSize":2,"labelFontSize":4,"labelColor":"#777","titleFontSize":6,"titleColor":"#aaa","titleX":-13,"labelPadding":1}},"y2":{"field":"y1"}}},{"data":{"name":"gridH"},"mark":{"type":"rule","color":"#e4e4e4","strokeWidth":0.6},"encoding":{"x":{"field":"x0","type":"quantitative"},"x2":{"field":"x1"},"y":{"field":"y","type":"quantitative"}}},{"data":{"name":"copper"},"mark":{"type":"rect","width":6.8,"height":11.8},"encoding":{"x":{"field":"x","type":"quantitative"},"y":{"field":"y","type":"quantitative"},"color":{"field":"z","type":"quantitative","scale":{"domain":[80,160],"range":["#00007f","#0000ff","#007fff","#00ffff","#7fff7f","#ffff00","#ff7f00","#ff0000","#7f0000"]},"legend":{"orient":"none","legendX":478,"legendY":35,"direction":"vertical","gradientLength":149,"gradientThickness":7,"values":[80,90,100,110,120,130,140,150,160],"labelFontSize":4,"labelColor":"#777","labelOverlap":false,"title":"Z (pixel)","titleOrient":"right","titleFontSize":6,"titleColor":"#aaa","titleFontWeight":"normal"}}}},{"data":{"name":"frame1"},"mark":{"type":"rect","fillOpacity":0,"stroke":"#ccc","strokeWidth":0.7},"encoding":{"x":{"field":"x0","type":"quantitative"},"x2":{"field":"x1"},"y":{"field":"y0","type":"quantitative"},"y2":{"field":"y1"}}},{"data":{"name":"outline3"},"mark":{"type":"rect","fillOpacity":0,"stroke":"#f00000","strokeWidth":3},"encoding":{"x":{"field":"x0","type":"quantitative"},"x2":{"field":"x1"},"y":{"field":"y0","type":"quantitative"},"y2":{"field":"y1"}}}]},{"layer":[{"data":{"name":"track"},"mark":{"type":"rect","fill":"white","stroke":"#b4b4b4","strokeWidth":1},"encoding":{"x":{"field":"start","type":"quantitative","title":"X (pixel)","scale":{"domain":[172,622],"range":[147,437],"nice":false},"axis":{"orient":"bottom","offset":-25,"values":[200,300,400,500,600],"grid":false,"ticks":false,"domainColor":"#8a8a8a","domainWidth":1.5,"labelFontSize":6.5,"labelColor":"#444","titleFontSize":9,"titleColor":"#444","titlePadding":1,"labelPadding":3}},"x2":{"field":"end"},"y":{"field":"row","type":"quantitative","title":"Y (pixel)","scale":{"domain":[28.6,212.7],"range":[390,212],"nice":false},"axis":{"orient":"left","offset":-147,"values":[40,60,80,100,120,140,160,180,200],"grid":false,"ticks":false,"domainColor":"#8a8a8a","domainWidth":1.5,"labelFontSize":6.5,"labelColor":"#444","titleFontSize":9,"titleColor":"#444","titleX":-29,"titleY":310,"labelPadding":3}},"y2":{"field":"top"}}},{"data":{"name":"blue"},"mark":{"type":"rect","fill":"#0c64f2"},"encoding":{"x":{"field":"start","type":"quantitative"},"x2":{"field":"end"},"y":{"field":"row","type":"quantitative"},"y2":{"field":"top"}}},{"data":{"name":"red"},"mark":{"type":"rect","fill":"#fb0606"},"encoding":{"x":{"field":"start","type":"quantitative"},"x2":{"field":"end"},"y":{"field":"row","type":"quantitative"},"y2":{"field":"top"}}},{"data":{"name":"contour"},"mark":{"type":"line","color":"#ff7a7a","strokeWidth":1,"strokeDash":[2,1]},"encoding":{"x":{"field":"x","type":"quantitative"},"y":{"field":"y","type":"quantitative"},"order":{"field":"o"}}}]}]}
